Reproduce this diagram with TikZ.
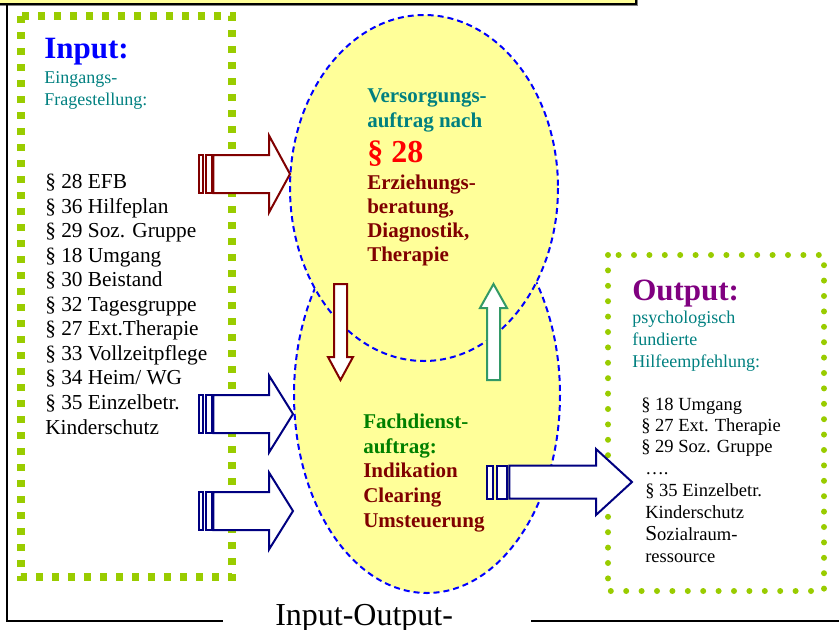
\documentclass[tikz,border=0pt]{standalone}
\usepackage{fontspec}
\setmainfont{Liberation Serif}
\usepackage{tikz}
\usetikzlibrary{calc}
\definecolor{limegreen}{HTML}{99CC00}
\definecolor{paleyellow}{HTML}{FFFF99}
\definecolor{darkred}{HTML}{800000}
\definecolor{navyblue}{HTML}{000080}
\definecolor{tealtext}{HTML}{008080}
\definecolor{purpletext}{HTML}{800080}
\definecolor{greentext}{HTML}{008000}
\definecolor{seagreen}{HTML}{339966}
\newcommand{\pxfont}[2]{\fontsize{#1}{#2}\selectfont}
% block arrow with two stripes at the tail:
% #1 colour, #2 y, #3 tail x, #4 head x, #5 tip x, #6 half body, #7 half head
\newcommand{\stripearrow}[7]{%
  \pgfmathsetmacro{\arrlen}{#4-#3}
  \draw[#1, blockarrow] (#3,{#2-#6}) rectangle ({#3+0.056*\arrlen},{#2+#6});
  \draw[#1, blockarrow] ({#3+0.095*\arrlen},{#2-#6}) rectangle ({#3+0.18*\arrlen},{#2+#6});
  \draw[#1, blockarrow] ({#3+0.205*\arrlen},{#2-#6}) -- (#4,{#2-#6}) -- (#4,{#2-#7})
    -- (#5,#2) -- (#4,{#2+#7}) -- (#4,{#2+#6}) -- ({#3+0.205*\arrlen},{#2+#6}) -- cycle;
}

\begin{document}
\begin{tikzpicture}[x=0.75pt, y=-0.75pt,
    heading/.style={anchor=base west, inner sep=0pt, font=\bfseries\pxfont{23.25pt}{28pt}},
    subtitle/.style={anchor=base west, inner sep=0pt, align=left, text=tealtext, font=\pxfont{13.5pt}{16.5pt}},
    paralist/.style={anchor=base west, inner sep=0pt, align=left, font=\pxfont{16pt}{18.4pt}},
    outlist/.style={anchor=base west, inner sep=0pt, align=left, font=\pxfont{13.9pt}{15.75pt}},
    boldtext/.style={anchor=base west, inner sep=0pt, align=left, font=\bfseries\pxfont{15.75pt}{18.4pt}},
    squaredots/.style={limegreen, line width=5.6pt, dash pattern=on 5.6pt off 6.4pt},
    rounddots/.style={limegreen, line width=4.5pt, line cap=round, dash pattern=on 0pt off 11.55pt},
    bubble/.style={blue, line width=1.5pt, dash pattern=on 4.5pt off 3pt, fill=paleyellow},
    blockarrow/.style={line width=1.5pt, fill=white}]
  \useasboundingbox (0,0) rectangle (839,629);

  % frame and title bar (multi-line nodes sit on their last baseline)
  \draw[gray, line width=1pt] (0,5.5) -- (637.5,5.5) -- (637.5,-5);
  \draw[line width=1.5pt, fill=paleyellow] (-5,-10) rectangle (636,3.5);
  \draw[line width=1.5pt] (7,4) -- (7,621) -- (223,621);
  \draw[line width=1.5pt] (531,621) -- (845,621);
  \node[anchor=base west, inner sep=0pt, font=\pxfont{24pt}{28pt}] (caption) at (275,625) {Input-Output-};

  % input side
  \draw[squaredots] (21,16) rectangle (232,577);
  \node[heading, text=blue] (inhead) at (44,58) {Input:};
  \node[subtitle] (insub) at (44,105) {Eingangs-\\Fragestellung:};
  \node[paralist] (inlist) at (45,434) {§ 28 EFB\\§ 36 Hilfeplan\\§ 29 Soz. Gruppe\\§ 18 Umgang\\§ 30 Beistand\\§ 32 Tagesgruppe\\§ 27 Ext.Therapie\\§ 33 Vollzeitpflege\\§ 34 Heim/ WG\\§ 35 Einzelbetr.\\Kinderschutz};

  % the two bubbles
  \draw[bubble] (427,395) ellipse [x radius=133, y radius=198];
  \draw[bubble] (424,188) ellipse [x radius=134, y radius=173];
  \node[boldtext, text=tealtext, font=\bfseries\pxfont{15.75pt}{18.75pt}] (auftrag) at (367,127) {Versorgungs-\\auftrag nach};
  \node[heading, text=red, font=\bfseries\pxfont{24pt}{28pt}] (para) at (367,162) {§ 28};
  \node[boldtext, text=darkred, font=\bfseries\pxfont{15.75pt}{18pt}] (beratung) at (367,261) {Erziehungs-\\beratung,\\Diagnostik,\\Therapie};
  \node[boldtext, text=greentext] (fachdienst) at (363,453) {Fachdienst-\\auftrag:};
  \node[boldtext, text=darkred] (indikation) at (363,527) {Indikation\\Clearing\\Umsteuerung};

  % output side
  \draw[rounddots] (608,255) rectangle (824,591);
  \node[heading, text=purpletext] (outhead) at (632,300) {Output:};
  \node[subtitle] (outsub) at (632,367) {psychologisch\\fundierte\\Hilfeempfehlung:};
  \node[outlist] (outlistA) at (641,452) {§ 18 Umgang\\§ 27 Ext. Therapie\\§ 29 Soz. Gruppe};
  \node[outlist, font=\pxfont{13.9pt}{16.5pt}] (outlistB) at (645,562) {….\\§ 35 Einzelbetr.\\Kinderschutz\\{\pxfont{16pt}{16pt}S}ozialraum-\\ressource};

  % block arrows
  \stripearrow{darkred}{174}{199}{269}{290}{19}{38.5}
  \stripearrow{navyblue}{414}{199}{269}{293}{19}{38.5}
  \stripearrow{navyblue}{511}{199}{269}{293}{19}{38.5}
  \stripearrow{navyblue}{482}{487}{596}{632}{16.5}{33}
  \draw[darkred, blockarrow] (334,284) -- (347,284) -- (347,357) -- (353,357)
    -- (340.5,380) -- (328,357) -- (334,357) -- cycle;
  \draw[seagreen, blockarrow] (487,380) -- (500,380) -- (500,308) -- (507,308)
    -- (493.5,284) -- (480,308) -- (487,308) -- cycle;
\end{tikzpicture}
\end{document}
